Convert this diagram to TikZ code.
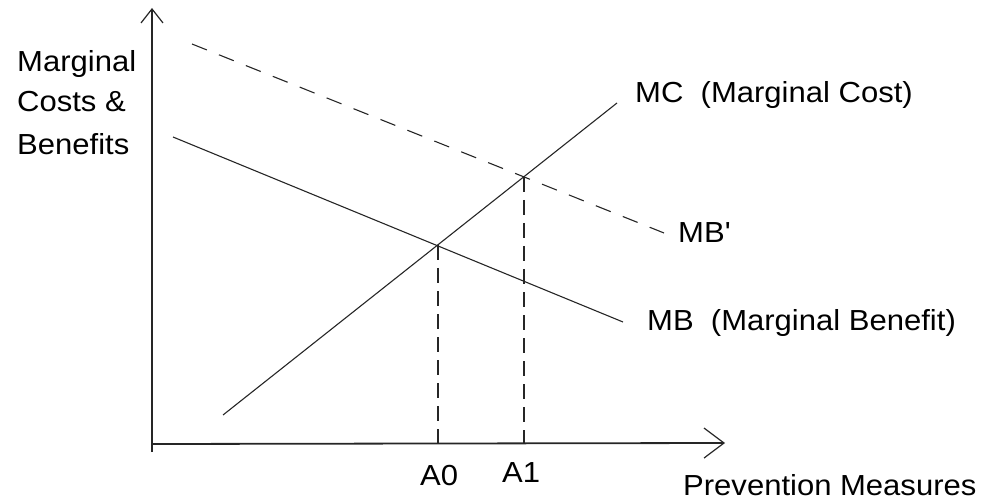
\documentclass[tikz,border=0pt]{standalone}
\usepackage{fontspec}
\setmainfont[FakeStretch=1.07]{Liberation Sans}
\usetikzlibrary{arrows.meta}
\begin{document}
\begin{tikzpicture}[x=1pt,y=-1pt,
  axis/.style={line width=1.8pt, black!85},
  curve/.style={line width=1.1pt, black!85},
  dashcurve/.style={curve, dash pattern=on 16pt off 13pt},
  guide/.style={line width=1.1pt, black!85, dash pattern=on 15pt off 8pt},
  lbl/.style={anchor=base west, inner sep=0pt, font=\fontsize{29}{34}\selectfont}]
\useasboundingbox (0,0) rectangle (981,502);
% axes
\coordinate (ybot) at (152,452);
\coordinate (ytop) at (152,8);
\coordinate (org) at (152,444);
\coordinate (xend) at (725,443);
\draw[axis, -{Straight Barb[length=14pt,width=22pt,line width=1.2pt]}] (ybot) -- (ytop);
\draw[axis, -{Straight Barb[length=20pt,width=30pt,line width=1.2pt]}] (org) -- (xend);
% curves
\coordinate (mc1) at (223,415);
\coordinate (mc2) at (617,103);
\coordinate (mb1) at (173,137);
\coordinate (mb2) at (623,322);
\coordinate (mbp1) at (192,44);
\coordinate (mbp2) at (664,233);
\draw[curve] (mc1) -- (mc2);
\draw[curve] (mb1) -- (mb2);
\draw[dashcurve] (mbp1) -- (mbp2);
% intersections and guides
\coordinate (i0) at (438,245);
\coordinate (i1) at (524,177);
\coordinate (a0) at (438,444);
\coordinate (a1) at (524,444);
\draw[guide] (i0) -- (a0);
\draw[guide] (i1) -- (a1);
% labels
\node[lbl] (l1) at (17,72) {Marginal};
\node[lbl] (l2) at (17,112) {Costs \&};
\node[lbl] (l3) at (17,155) {Benefits};
\node[lbl] (mcl) at (635,103) {MC\ \ (Marginal Cost)};
\node[lbl] (mbpl) at (678,243) {MB\textquotesingle};
\node[lbl] (mbl) at (647,330) {MB\ \ (Marginal Benefit)};
\node[lbl] (a0l) at (420,485) {A0};
\node[lbl] (a1l) at (502,482) {A1};
\node[lbl] (xl) at (683,495) {Prevention Measures};
\end{tikzpicture}
\end{document}
